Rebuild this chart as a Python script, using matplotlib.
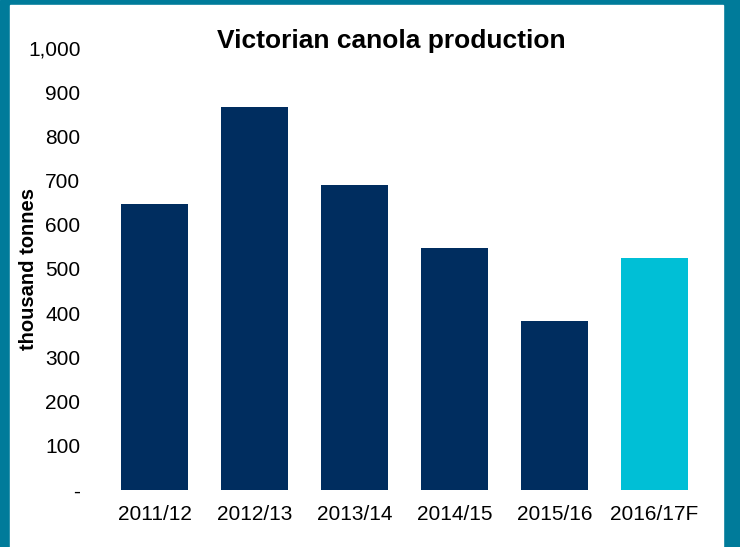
import matplotlib.pyplot as plt
from matplotlib.patches import Rectangle

plt.rcParams['font.family'] = ['Liberation Sans', 'DejaVu Sans']

seasons = ["2011/12", "2012/13", "2013/14", "2014/15", "2015/16", "2016/17F"]
production = [647, 866, 690, 547, 382, 525]
bar_colors = ["#002D5F"] * 5 + ["#00BFD6"]
yticks = [0, 100, 200, 300, 400, 500, 600, 700, 800, 900, 1000]
ytick_labels = ["-"] + [f"{v:,}" for v in yticks[1:]]

W, H = 740, 547
fig = plt.figure(figsize=(W / 100, H / 100), dpi=100)

# teal frame around the white panel
fig.patches.append(Rectangle((0, 0), 1, 1, transform=fig.transFigure,
                             color="#007B9A", zorder=-2))
fig.patches.append(Rectangle((10 / W, 0), (723 - 10) / W, (H - 5) / H,
                             transform=fig.transFigure, color="white", zorder=-1))

ax = fig.add_axes([104.5 / W, (H - 490) / H, 600 / W, 442 / H])
ax.set_facecolor("none")
ax.bar(range(len(seasons)), production, width=0.67, color=bar_colors)

ax.set_xlim(-0.5, len(seasons) - 0.5)
ax.set_ylim(0, 1000)
ax.set_yticks(yticks)
ax.set_yticklabels(ytick_labels)
ax.set_xticks(range(len(seasons)))
ax.set_xticklabels(seasons)
ax.tick_params(axis="both", length=0, labelsize=15)
ax.tick_params(axis="y", pad=17.3)
ax.tick_params(axis="x", pad=11)
for s in ax.spines.values():
    s.set_visible(False)

fig.text(29 / W, (H - 269) / H, "thousand tonnes", rotation=90,
         ha="center", va="center", fontsize=14.5, fontweight="bold")
fig.text(391 / W, (H - 41) / H, "Victorian canola production",
         ha="center", va="center", fontsize=19, fontweight="bold")

fig.savefig("out.png", dpi=100)
